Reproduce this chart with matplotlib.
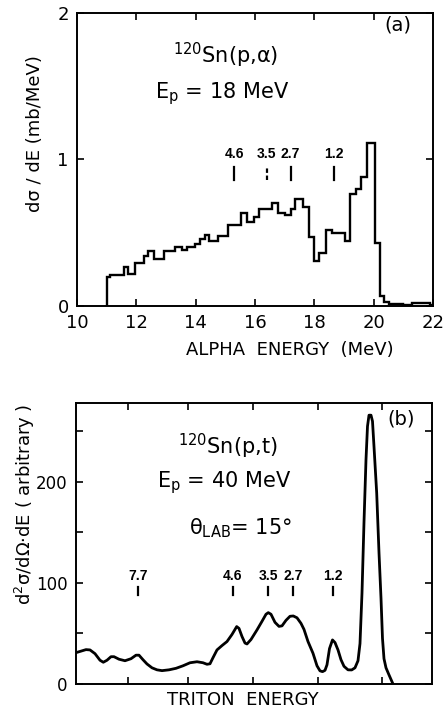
import numpy as np
import matplotlib
matplotlib.use("Agg")
import matplotlib.pyplot as plt

# ---- panel (a): 120Sn(p,alpha) histogram ----
alpha_edges = [11.0, 11.1, 11.57, 11.73, 11.94, 12.27, 12.41, 12.58, 12.92, 13.31,
               13.54, 13.71, 13.99, 14.16, 14.30, 14.46, 14.75, 15.09, 15.54, 15.73,
               15.96, 16.13, 16.58, 16.78, 17.0, 17.2, 17.36, 17.61, 17.81, 17.98,
               18.15, 18.38, 18.6, 18.81, 19.03, 19.19, 19.39, 19.59, 19.79, 20.03,
               20.2, 20.35, 20.52, 21.0, 21.3, 21.9, 22.0]
alpha_xs = [0.196, 0.21, 0.268, 0.218, 0.296, 0.341, 0.378, 0.32, 0.378,
            0.405, 0.38, 0.405, 0.42, 0.455, 0.485, 0.446, 0.478, 0.55, 0.637,
            0.576, 0.605, 0.66, 0.70, 0.637, 0.62, 0.66, 0.728, 0.674, 0.473,
            0.309, 0.36, 0.519, 0.50, 0.50, 0.446, 0.765, 0.796, 0.883, 1.11,
            0.428, 0.068, 0.03, 0.015, 0.008, 0.02, 0.005]
alpha_marks = [15.3, 16.4, 17.2, 18.65]
alpha_mark_labels = ["4.6", "3.5", "2.7", "1.2"]

# ---- panel (b): 120Sn(p,t) spectrum (arbitrary energy channel) ----
triton_x = [0, 5, 10, 14, 19, 24, 27.3, 31, 35, 38, 43, 49, 55, 60, 63, 67, 71, 76, 81,
            86, 93, 100, 107, 114, 121, 127, 131, 134, 137, 141, 146, 151, 156, 160.7,
            163, 166, 169, 171, 175, 181, 186, 190, 192.3, 195, 199, 203, 206, 210, 214,
            217.3, 221, 225, 228, 232, 237, 241, 244, 246.5, 249, 251, 253.5, 256.5, 259,
            262, 265, 268, 272, 275.7, 279, 282, 284, 286, 288, 290, 291.5, 293, 295,
            296.5, 298, 300.7, 303, 305, 306.5, 308, 310, 313, 317]
triton_y = [31, 32.5, 34, 33.7, 30, 23.5, 21.5, 23.5, 27, 27, 24.5, 23, 25, 28.5, 28.5, 24,
            19.8, 16, 14, 13.2, 14, 15.5, 18, 21, 22, 21, 19.5, 20, 26, 33.7, 38, 42, 49,
            56.8, 55, 47, 40.5, 39.6, 44, 53.5, 62, 69, 70.6, 69, 61, 57, 57.5, 63, 67,
            67.3, 65.5, 60, 54, 42, 30.4, 18, 13, 12.2, 13.5, 19, 35, 43.6, 41, 33.7, 24,
            17.5, 14, 13.9, 16, 23, 40, 90, 160, 222, 255, 266, 266, 260, 235, 189, 130,
            85, 45, 25, 16, 9, 0]
triton_ticks = [52, 112, 177, 242, 306]
triton_marks = [62, 157, 192, 217, 257]
triton_mark_labels = ["7.7", "4.6", "3.5", "2.7", "1.2"]

plt.rcParams['font.family'] = ['DejaVu Sans']
fig = plt.figure(figsize=(4.46, 7.13), dpi=100)

# ---------- (a) ----------
ax1 = fig.add_axes([0.1726, 0.5708, 0.7982, 0.411])
ax1.stairs(alpha_xs, alpha_edges, color='black', linewidth=1.7)
ax1.set_xlim(10, 22)
ax1.set_ylim(0, 2)
ax1.set_xticks([10, 12, 14, 16, 18, 20, 22])
ax1.set_yticks([0, 1, 2])
ax1.tick_params(direction='in', top=True, right=True, length=5, width=1.2,
                labelsize=13, pad=6)
for s in ax1.spines.values():
    s.set_linewidth(1.4)

for e, lab in zip(alpha_marks, alpha_mark_labels):
    ls = (0, (2, 1.2)) if lab == "3.5" else '-'
    ax1.plot([e, e], [0.86, 0.95], color='black', linewidth=1.6, linestyle=ls)
    ax1.text(e, 1.04, lab, ha='center', va='center', fontsize=10,
             fontweight='semibold', family='Liberation Sans')

ax1.text(15.0, 1.71, '$^{120}$Sn(p,α)', ha='center', va='center', fontsize=15)
ax1.text(14.9, 1.45, 'E$_\\mathregular{p}$ = 18 MeV', ha='center', va='center', fontsize=15)
ax1.text(20.8, 1.92, '(a)', ha='center', va='center', fontsize=14)

fig.text(0.078, 0.812, 'dσ / dE (mb/MeV)', rotation=90, ha='center', va='center',
         fontsize=13)
fig.text(0.650, 0.509, 'ALPHA  ENERGY  (MeV)', ha='center', va='center', fontsize=13)

# ---------- (b) ----------
ax2 = fig.add_axes([0.1704, 0.0407, 0.7982, 0.394])
ax2.plot(triton_x, triton_y, color='black', linewidth=2.0, solid_joinstyle='round')
ax2.set_xlim(0, 356)
ax2.set_ylim(0, 278)
ax2.set_xticks(triton_ticks)
ax2.set_xticklabels([])
ax2.set_yticks([0, 100, 200])
ax2.set_yticks([50, 150, 250], minor=True)
ax2.tick_params(which='both', direction='in', top=True, right=True, length=5, width=1.2,
                labelsize=12, pad=6)
for s in ax2.spines.values():
    s.set_linewidth(1.4)

for e, lab in zip(triton_marks, triton_mark_labels):
    ax2.plot([e, e], [88, 96], color='black', linewidth=1.6)
    ax2.text(e, 107, lab, ha='center', va='center', fontsize=10,
             fontweight='semibold', family='Liberation Sans')

ax2.text(152, 235, '$^{120}$Sn(p,t)', ha='center', va='center', fontsize=15)
ax2.text(148, 199, 'E$_\\mathregular{p}$ = 40 MeV', ha='center', va='center', fontsize=15)
ax2.text(164, 154, 'θ$_\\mathregular{LAB}$= 15°', ha='center', va='center', fontsize=15)
ax2.text(325, 262, '(b)', ha='center', va='center', fontsize=14)

fig.text(0.056, 0.292, 'd$^2$σ/dΩ·dE ( arbitrary )', rotation=90, ha='center',
         va='center', fontsize=13)
fig.text(0.545, 0.018, 'TRITON  ENERGY', ha='center', va='center', fontsize=13)

fig.savefig('out.png', dpi=100)
